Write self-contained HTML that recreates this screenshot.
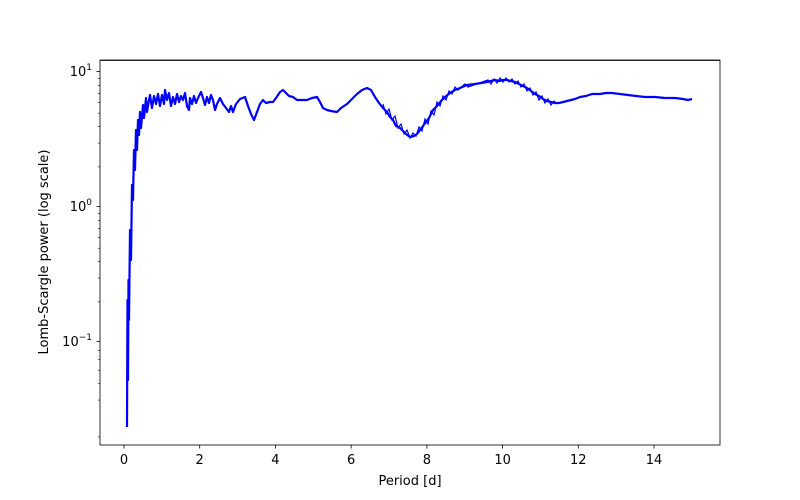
<!DOCTYPE html>
<html><head><style>body{margin:0;background:#fff}svg{display:block}text{font-family:"DejaVu Sans","Liberation Sans",sans-serif;font-size:13px;fill:#000}</style></head>
<body>
<svg width="800" height="500" viewBox="0 0 800 500">
<rect width="800" height="500" fill="#fff"/>
<g stroke="#000" stroke-width="0.8">
<!-- x ticks -->
<line x1="124" y1="445" x2="124" y2="448.5"/><line x1="199.7" y1="445" x2="199.7" y2="448.5"/><line x1="275.4" y1="445" x2="275.4" y2="448.5"/><line x1="351.1" y1="445" x2="351.1" y2="448.5"/><line x1="426.9" y1="445" x2="426.9" y2="448.5"/><line x1="502.6" y1="445" x2="502.6" y2="448.5"/><line x1="578.3" y1="445" x2="578.3" y2="448.5"/><line x1="654" y1="445" x2="654" y2="448.5"/>
<!-- y major -->
<line x1="96.5" y1="71.5" x2="100" y2="71.5"/><line x1="96.5" y1="206.5" x2="100" y2="206.5"/><line x1="96.5" y1="341.5" x2="100" y2="341.5"/>
</g>
<g stroke="#000" stroke-width="0.6">
<!-- minor ticks -->
<line x1="98" y1="436.9" x2="100" y2="436.9"/><line x1="98" y1="400.1" x2="100" y2="400.1"/><line x1="98" y1="383.3" x2="100" y2="383.3"/><line x1="98" y1="370.2" x2="100" y2="370.2"/><line x1="98" y1="359.5" x2="100" y2="359.5"/><line x1="98" y1="350.4" x2="100" y2="350.4"/><line x1="98" y1="342.6" x2="100" y2="342.6" style="display:none"/><line x1="98" y1="348" x2="100" y2="348" style="display:none"/>
<line x1="98" y1="301.9" x2="100" y2="301.9"/><line x1="98" y1="278.1" x2="100" y2="278.1"/><line x1="98" y1="261.3" x2="100" y2="261.3"/><line x1="98" y1="248.2" x2="100" y2="248.2"/><line x1="98" y1="237.5" x2="100" y2="237.5"/><line x1="98" y1="228.5" x2="100" y2="228.5"/><line x1="98" y1="220.7" x2="100" y2="220.7"/><line x1="98" y1="213.7" x2="100" y2="213.7"/>
<line x1="98" y1="166.9" x2="100" y2="166.9"/><line x1="98" y1="143.1" x2="100" y2="143.1"/><line x1="98" y1="126.3" x2="100" y2="126.3"/><line x1="98" y1="113.2" x2="100" y2="113.2"/><line x1="98" y1="102.5" x2="100" y2="102.5"/><line x1="98" y1="93.5" x2="100" y2="93.5"/><line x1="98" y1="85.7" x2="100" y2="85.7"/><line x1="98" y1="78.7" x2="100" y2="78.7"/>
<line x1="98" y1="336.2" x2="100" y2="336.2" style="display:none"/>
</g>
<g text-anchor="middle">
<text x="124" y="464">0</text><text x="199.7" y="464">2</text><text x="275.4" y="464">4</text><text x="351.1" y="464">6</text><text x="426.9" y="464">8</text><text x="502.6" y="464">10</text><text x="578.3" y="464">12</text><text x="654" y="464">14</text>
<text x="410" y="485">Period [d]</text>
</g>
<g text-anchor="end">
<text x="92" y="76">10<tspan dy="-6" font-size="9">1</tspan></text>
<text x="92" y="211">10<tspan dy="-6" font-size="9">0</tspan></text>
<text x="92" y="346">10<tspan dy="-6" font-size="9">−1</tspan></text>
</g>
<text transform="translate(48,252) rotate(-90)" text-anchor="middle">Lomb-Scargle power (log scale)</text>
<polyline fill="none" stroke="#0000ff" stroke-width="2.2" stroke-linejoin="round" points="
127,427 127.5,300 128,380 128.5,280 129,320 130,230 131,260 132,185 133,200 134,150 135,170 136,130 137,150 138,120 139,135 140,112 141,128 143,105 144,118 146,98 147,112 149,100 150,95 152,108 154,96 156,104 158,94 160,106 162,95 164,104 165,90 167,100 169,93 171,106 173,97 175,104 177,94 179,102 181,96 183,100 185,93 187,106 189,110 190,98 192,104 194,96 196,103 198,98 200,94 201,92 203,98 205,105 207,97 209,103 211,95 213,100 215,110 217,104 220,98 223,104 226,108 229,112 231,106 233,112 236,104 240,99 245,97 248,106 251,114 254,120 257,112 260,104 263,100 266,103 270,102 273,102 276,98 280,92 283,90 286,93 289,96 293,97 297,100 302,100 307,100 312,98 317,97 320,102 323,108 327,110 331,111 337,112 341,108 344,106 347,104 352,99 357,94 362,90 367,88 371,90 375,97 379,103 383,108 387,112 390,117 393,120 396,126 400,128 403,131 406,134 410,137 414,136 417,134 420,130 423,126 426,122 429,118 433,110 437,106 441,101 445,97 450,93 455,90 460,88 467,85 475,84 481,83 487,82 491,81 495,80 499,81 503,80 507,80 511,81 515,82 519,84 523,86 527,88 531,91 535,94 539,96 543,99 547,101 551,102 555,103 559,103 563,102 567,101 571,100 575,99 580,97 586,96 592,94 600,94 606,93 612,93 620,94 628,95 636,96 645,97 655,97 665,98 675,98 683,99 688,100 692,99"/>
<polyline fill="none" stroke="#0000ff" stroke-width="1.2" points="
383,104 386,114 389,109 392,120 395,116 398,128 401,124 404,134 407,130 410,138 413,133 416,136 419,127 422,131 425,119 428,124 431,111 434,115 437,102 440,106 443,96 446,100 449,91 452,94 455,87 458,90 465,84 468,87 488,80 491,84 494,79 497,83 500,78 503,82 506,78 509,82 512,79 515,84 518,81 521,87 524,84 527,91 530,88 533,95 536,92 539,100 542,96 545,103 548,99 551,105 554,101 557,104"/>
<line x1="100" y1="60.5" x2="720" y2="60.5" stroke="#000" stroke-width="0.8"/>
<rect x="100" y="60" width="620" height="385" fill="none" stroke="#000" stroke-width="0.8"/>
</svg>
</body></html>
